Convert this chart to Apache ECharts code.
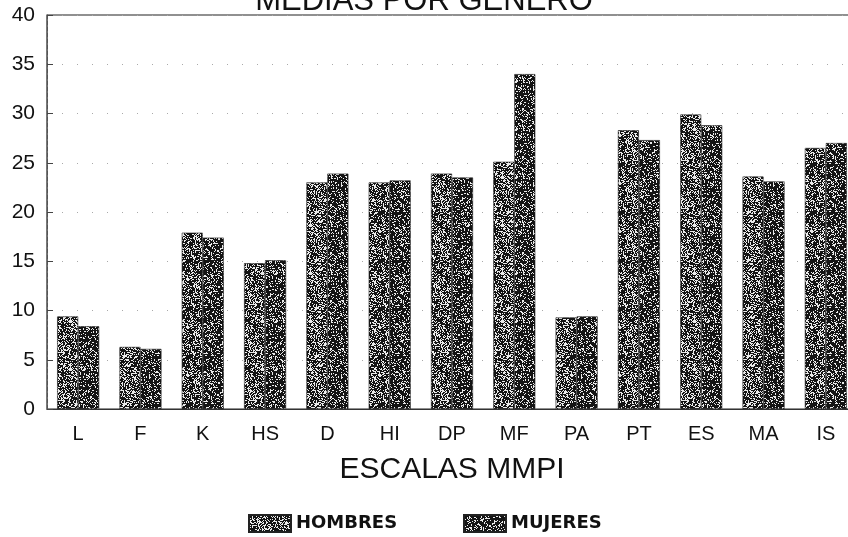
<!DOCTYPE html>
<html>
<head>
<meta charset="utf-8">
<script src="https://cdn.jsdelivr.net/npm/echarts@6/dist/echarts.min.js"></script>
<style>html,body{margin:0;padding:0;background:#fff}#c{width:848px;height:537px}</style>
</head>
<body>
<div id="c"></div>
<script>
var titleText = 'MEDIAS POR GENERO';
var axisName = 'ESCALAS MMPI';
var categories = ['L','F','K','HS','D','HI','DP','MF','PA','PT','ES','MA','IS'];
var seriesNames = ['HOMBRES','MUJERES'];
var hombres = [9.4, 6.3, 17.9, 14.8, 23.0, 23.0, 23.9, 25.1, 9.3, 28.3, 29.9, 23.6, 26.5];
var mujeres = [8.4, 6.1, 17.4, 15.1, 23.9, 23.2, 23.5, 34.0, 9.4, 27.3, 28.8, 23.1, 27.0];
var yMin = 0, yMax = 40, yStep = 5;

// deterministic speckle texture (style only)
function speckle(density, seed) {
  var cv = document.createElement('canvas');
  cv.width = 48; cv.height = 48;
  var ctx = cv.getContext('2d');
  var img = ctx.createImageData(48, 48);
  var s = seed;
  for (var i = 0; i < 48 * 48; i++) {
    s = (s * 1103515245 + 12345) & 0x7fffffff;
    var r = (s % 1000) / 1000;
    var v = r < density ? 20 : 235;
    img.data[i*4] = v; img.data[i*4+1] = v; img.data[i*4+2] = v; img.data[i*4+3] = 255;
  }
  ctx.putImageData(img, 0, 0);
  return {image: cv, repeat: 'repeat'};
}
var patH = speckle(0.62, 7);
var patM = speckle(0.76, 13);

var font = 'Liberation Sans, Arial, sans-serif';
var chart = echarts.init(document.getElementById('c'), null, {renderer: 'canvas'});
chart.setOption({
  animation: false,
  backgroundColor: '#fff',
  title: {
    text: titleText, left: 'center', top: -14, padding: 0,
    textStyle: {fontFamily: font, fontSize: 31, fontWeight: 'normal', color: '#111'}
  },
  legend: [
    {data: [seriesNames[0]], left: 248, top: 514, padding: 0, itemWidth: 42, itemHeight: 17, itemGap: 10,
     icon: 'rect', textStyle: {fontFamily: 'DejaVu Sans', fontWeight: 'bold', fontSize: 18, color: '#111'}},
    {data: [seriesNames[1]], left: 463, top: 514, padding: 0, itemWidth: 42, itemHeight: 17, itemGap: 10,
     icon: 'rect', textStyle: {fontFamily: 'DejaVu Sans', fontWeight: 'bold', fontSize: 18, color: '#111'}}
  ],
  grid: {left: 47, top: 15, height: 394, width: 810, show: true, borderColor: '#222', borderWidth: 1.2,
         containLabel: false, outerBoundsMode: 'none'},
  xAxis: {
    type: 'category', data: categories,
    name: axisName, nameLocation: 'middle', nameGap: 46,
    nameTextStyle: {fontFamily: font, fontSize: 30, color: '#111'},
    axisLine: {lineStyle: {color: '#333', width: 1}},
    axisTick: {show: false},
    axisLabel: {fontFamily: font, fontSize: 20, color: '#111', margin: 15}
  },
  yAxis: {
    type: 'value', min: yMin, max: yMax, interval: yStep,
    axisLine: {show: true, lineStyle: {color: '#555', width: 1, type: [4, 2]}},
    axisTick: {show: true, inside: true, length: 6, lineStyle: {color: '#444'}},
    axisLabel: {fontFamily: font, fontSize: 21, color: '#111', margin: 12},
    splitLine: {show: true, lineStyle: {color: '#aaa', width: 1, type: [1, 14]}}
  },
  series: [
    {name: seriesNames[0], type: 'bar', data: hombres, barWidth: 21, barGap: '0%',
     itemStyle: {color: patH, borderColor: '#222', borderWidth: 0.6}},
    {name: seriesNames[1], type: 'bar', data: mujeres, barWidth: 21, barGap: '0%',
     itemStyle: {color: patM, borderColor: '#222', borderWidth: 0.6}}
  ]
});
</script>
</body>
</html>
